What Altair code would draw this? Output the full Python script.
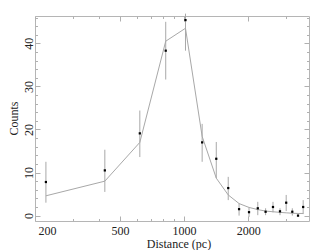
import altair as alt
import pandas as pd

# Data
distance = [225, 425, 620, 820, 1015, 1215, 1415, 1610, 1810, 2015, 2215, 2410, 2610, 2815, 3010, 3215, 3420, 3615]
counts = [7.8, 10.5, 19.1, 38.3, 45.4, 17.0, 13.2, 6.4, 1.5, 0.8, 1.7, 0.9, 2.0, 1.0, 3.0, 0.9, 0.0, 2.0]
err_lo = [3.0, 5.5, 13.6, 31.6, 38.3, 12.5, 8.7, 3.6, 0.0, -0.3, 0.1, 0.1, 0.75, 0.1, 1.05, 0.0, -0.3, 0.35]
err_hi = [12.5, 15.3, 24.4, 45.0, 46.9, 21.3, 17.1, 9.0, 2.8, 1.9, 3.2, 1.7, 3.2, 1.7, 4.8, 1.7, 0.3, 3.6]
model = [4.6, 8.0, 17.0, 40.5, 43.5, 18.4, 8.7, 4.8, 2.8, 1.9, 1.4, 1.05, 0.9, 0.75, 0.65, 0.55, 0.5, 0.5]

x_major = [200, 500, 1000, 2000]
x_minor = [300, 400, 600, 700, 800, 900, 3000]
y_major = [0, 10, 20, 30, 40]
y_minor = [2, 4, 6, 8, 12, 14, 16, 18, 22, 24, 26, 28, 32, 34, 36, 38, 42, 44, 46]

df = pd.DataFrame({"d": distance, "c": counts, "lo": err_lo, "hi": err_hi, "m": model})

FONT = "Liberation Serif"
TICK = "#b0b0b0"
GREY = "#a8a8a8"
MAJ = 5
MIN = 2.5

xs = alt.Scale(type="log", domain=[200, 3850], nice=False)
ys = alt.Scale(domain=[-1.25, 46.35], nice=False, zero=False)

common = dict(grid=False, domain=False, tickColor=TICK, tickWidth=1)

ax_bottom_major = alt.Axis(orient="bottom", values=x_major, format="d", tickSize=MAJ, offset=-MAJ,
                           labelPadding=4, labelFlush=True, labelFlushOffset=-3,
                           title="Distance (pc)", titleX=143.5, titleY=31, titleAlign="center",
                           titleBaseline="alphabetic", **common)
ax_bottom_minor = alt.Axis(orient="bottom", values=x_minor, tickSize=MIN, offset=-MIN,
                           labels=False, title=None, **common)
ax_top_major = alt.Axis(orient="top", values=x_major, tickSize=MAJ, offset=-MAJ,
                        labels=False, title=None, **common)
ax_top_minor = alt.Axis(orient="top", values=x_minor, tickSize=MIN, offset=-MIN,
                        labels=False, title=None, **common)

ax_left_major = alt.Axis(orient="left", values=y_major, format="d", tickSize=MAJ, offset=-MAJ,
                         labelPadding=3, labelAngle=-90, labelAlign="center",
                         labelBaseline="alphabetic",
                         title="Counts", titleX=-23, titleY=102, titleAngle=-90,
                         titleAlign="center", titleBaseline="alphabetic", **common)
ax_left_minor = alt.Axis(orient="left", values=y_minor, tickSize=MIN, offset=-MIN,
                         labels=False, title=None, **common)
ax_right_major = alt.Axis(orient="right", values=y_major, tickSize=MAJ, offset=-MAJ,
                          labels=False, title=None, **common)
ax_right_minor = alt.Axis(orient="right", values=y_minor, tickSize=MIN, offset=-MIN,
                          labels=False, title=None, **common)

base = alt.Chart(df)

err = base.mark_rule(color=GREY, strokeWidth=1).encode(
    x=alt.X("d:Q", scale=xs, axis=ax_top_major),
    y=alt.Y("lo:Q", scale=ys, axis=ax_right_major),
    y2="hi:Q",
)
line = base.mark_line(color=GREY, strokeWidth=1).encode(
    x=alt.X("d:Q", scale=xs, axis=ax_bottom_minor),
    y=alt.Y("m:Q", scale=ys, axis=ax_left_minor),
)
pts = base.mark_square(size=5, color="#000000", opacity=1).encode(
    x=alt.X("d:Q", scale=xs, axis=ax_bottom_major),
    y=alt.Y("c:Q", scale=ys, axis=ax_left_major),
)
ghost = base.mark_point(opacity=0).encode(
    x=alt.X("d:Q", scale=xs, axis=ax_top_minor),
    y=alt.Y("c:Q", scale=ys, axis=ax_right_minor),
)

chart = (
    alt.layer(err, line, pts, ghost)
    .resolve_axis(x="independent", y="independent")
    .properties(
        width=274,
        height=205,
        autosize=alt.AutoSizeParams(type="none"),
        padding={"left": 27, "top": 8, "right": 15, "bottom": 30},
        background="white",
    )
    .configure_view(stroke="#b5b5b5", strokeWidth=1)
    .configure_axis(labelFont=FONT, labelFontSize=12, labelColor="#222222",
                    titleFont=FONT, titleFontSize=12, titleFontWeight="normal",
                    titleColor="#222222")
)

chart.save("out.html", embed_options={"renderer": "svg", "actions": False})
